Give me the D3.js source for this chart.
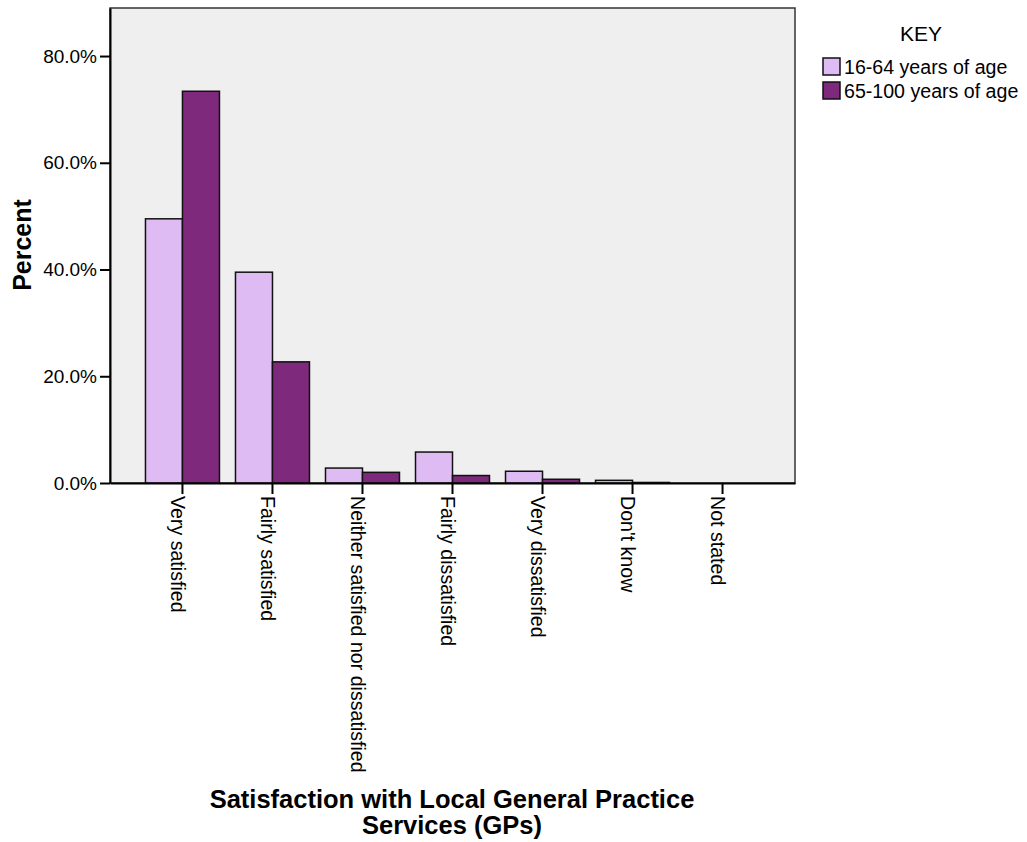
<!DOCTYPE html>
<html>
<head>
<meta charset="utf-8">
<script src="https://cdn.jsdelivr.net/npm/d3@7"></script>
<style>
  html, body { margin: 0; padding: 0; background: #ffffff; }
  svg { display: block; font-family: "Liberation Sans", Arial, sans-serif; }
</style>
</head>
<body>
<svg id="chart" width="1027" height="842"></svg>
<script>
const categories = ["Very satisfied", "Fairly satisfied", "Neither satisfied nor dissatisfied",
  "Fairly dissatisfied", "Very dissatisfied", "Don't know", "Not stated"];
const seriesNames = ["16-64 years of age", "65-100 years of age"];
const values1664 = [49.5, 39.5, 2.8, 5.8, 2.2, 0.5, 0.0];
const values65100 = [73.4, 22.7, 2.0, 1.4, 0.7, 0.1, 0.0];
const yTicks = [0, 20, 40, 60, 80];
const colors = ["#DEBBF3", "#7E297C"];

const svg = d3.select("#chart");
const plot = { left: 110, right: 795, top: 8, bottom: 483 };

const x0 = d3.scaleBand().domain(categories).range([plot.left, plot.right])
  .paddingInner(0.178).paddingOuter(0.394);
const x1 = d3.scaleBand().domain(seriesNames).range([0, x0.bandwidth()]);
const y = d3.scaleLinear().domain([0, 89]).range([plot.bottom, plot.top]);
const color = d3.scaleOrdinal().domain(seriesNames).range(colors);

// background
svg.append("rect")
  .attr("x", plot.left).attr("y", plot.top)
  .attr("width", plot.right - plot.left).attr("height", plot.bottom - plot.top)
  .attr("fill", "#EFEFEF").attr("stroke", "#333").attr("stroke-width", 1.5);

// bars
const rows = categories.map((c, i) => ({ cat: c, vals: [values1664[i], values65100[i]] }));
const groups = svg.append("g").selectAll("g").data(rows).join("g")
  .attr("transform", d => `translate(${x0(d.cat)},0)`);
groups.selectAll("rect")
  .data(d => d.vals.map((v, j) => ({ s: seriesNames[j], v })))
  .join("rect")
  .attr("x", d => x1(d.s))
  .attr("y", d => y(d.v))
  .attr("width", x1.bandwidth())
  .attr("height", d => y(0) - y(d.v))
  .attr("fill", d => color(d.s))
  .attr("stroke", "#111")
  .attr("stroke-width", 1.5);

// y axis
const yAxis = d3.axisLeft(y).tickValues(yTicks).tickSize(10).tickSizeOuter(0).tickPadding(3)
  .tickFormat(d => d3.format(".1f")(d) + "%");
const gy = svg.append("g").attr("transform", `translate(${plot.left},0)`).call(yAxis);
gy.select(".domain").attr("stroke", "#000").attr("stroke-width", 2);
gy.selectAll(".tick line").attr("stroke", "#000").attr("stroke-width", 2);
gy.selectAll(".tick text").attr("font-size", "19px").attr("fill", "#000")
  .attr("font-family", "'Liberation Sans', Arial, sans-serif");

// x axis
const xAxis = d3.axisBottom(x0).tickSize(11).tickSizeOuter(0);
const gx = svg.append("g").attr("transform", `translate(0,${plot.bottom})`).call(xAxis);
gx.select(".domain").attr("stroke", "#000").attr("stroke-width", 2);
gx.selectAll(".tick line").attr("stroke", "#000").attr("stroke-width", 2);
gx.selectAll(".tick text")
  .attr("font-size", "19.6px").attr("fill", "#000")
  .attr("font-family", "'Liberation Sans', Arial, sans-serif")
  .attr("text-anchor", "start")
  .attr("transform", "rotate(90)")
  .attr("x", 13).attr("y", 0).attr("dy", "0.58em");

// y label
svg.append("text")
  .attr("transform", "translate(31,245) rotate(-90)")
  .attr("text-anchor", "middle")
  .attr("font-size", "25px").attr("font-weight", "bold")
  .text("Percent");

// x title
const title = svg.append("text").attr("text-anchor", "middle")
  .attr("font-size", "25.5px").attr("font-weight", "bold");
title.append("tspan").attr("x", 452).attr("y", 808).text("Satisfaction with Local General Practice");
title.append("tspan").attr("x", 452).attr("y", 834).text("Services (GPs)");

// legend
svg.append("text").attr("x", 921).attr("y", 41).attr("text-anchor", "middle")
  .attr("font-size", "21px").text("KEY");
const leg = svg.append("g").selectAll("g").data(seriesNames).join("g")
  .attr("transform", (d, i) => `translate(823,${58 + i * 24})`);
leg.append("rect").attr("width", 17).attr("height", 17)
  .attr("fill", d => color(d)).attr("stroke", "#111").attr("stroke-width", 1.5);
leg.append("text").attr("x", 21).attr("y", 16).attr("font-size", "19.6px").text(d => d);
</script>
</body>
</html>
